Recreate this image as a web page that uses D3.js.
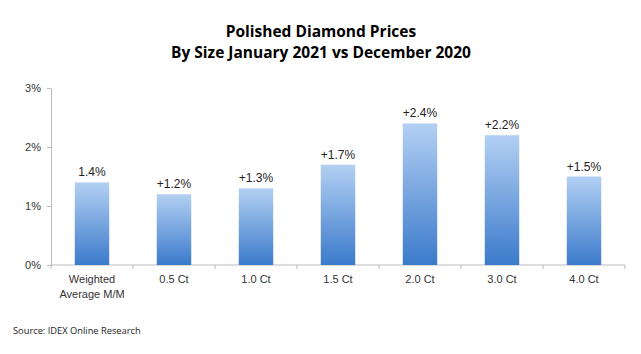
<!DOCTYPE html>
<html>
<head>
<meta charset="utf-8">
<script src="https://cdn.jsdelivr.net/npm/d3@7"></script>
<style>
  body { margin: 0; background: #fff; }
  text { font-family: "Liberation Sans", Arial, sans-serif; }
</style>
</head>
<body>
<div id="chart"></div>
<script>
// data
const categories = ["Weighted\nAverage M/M", "0.5 Ct", "1.0 Ct", "1.5 Ct", "2.0 Ct", "3.0 Ct", "4.0 Ct"];
const values = [1.4, 1.2, 1.3, 1.7, 2.4, 2.2, 1.5];
const valueLabels = ["1.4%", "+1.2%", "+1.3%", "+1.7%", "+2.4%", "+2.2%", "+1.5%"];
const yTicks = [0, 1, 2, 3];

const W = 641, H = 354;
const margin = {top: 88, right: 16, bottom: 89, left: 51};
const width = W - margin.left - margin.right,
      height = H - margin.top - margin.bottom;

const root = d3.select("#chart").append("svg")
    .attr("width", W)
    .attr("height", H);

// Gradient for bars
const grad = root.append("defs").append("linearGradient")
    .attr("id", "barGrad")
    .attr("x1", 0).attr("y1", 0).attr("x2", 0).attr("y2", 1);
grad.append("stop").attr("offset", "0%").attr("stop-color", "#b3d0f3");
grad.append("stop").attr("offset", "100%").attr("stop-color", "#3b7acb");

// Title
[["Polished Diamond Prices", 37], ["By Size January 2021 vs December 2020", 58]].forEach(([t, ty]) => {
    root.append("text")
        .attr("x", 321).attr("y", ty)
        .attr("text-anchor", "middle")
        .style("font-family", "'Open Sans', sans-serif")
        .style("font-weight", "700")
        .style("font-size", "15.5px")
        .attr("fill", "#000")
        .text(t);
});

const svg = root.append("g")
    .attr("transform", `translate(${margin.left},${margin.top})`);

const x = d3.scaleBand()
    .domain(categories)
    .range([0, width])
    .paddingInner(0.58)
    .paddingOuter(0.29);

const y = d3.scaleLinear()
    .domain([0, 3])
    .range([height, 0]);

// Y axis
const yAxis = svg.append("g")
    .call(d3.axisLeft(y).tickValues(yTicks).tickFormat(d => d + "%").tickSize(4).tickSizeOuter(0));
yAxis.select(".domain").attr("stroke", "#bbb");
yAxis.selectAll(".tick line").attr("stroke", "#bbb");
yAxis.selectAll(".tick text")
    .attr("x", -10)
    .style("font-size", "11px")
    .attr("fill", "#333");

// X axis (ticks between categories)
const xAxis = svg.append("g")
    .attr("transform", `translate(0,${height})`);
xAxis.append("line")
    .attr("x1", 0).attr("x2", width)
    .attr("stroke", "#bbb");
const step = x.step();
xAxis.selectAll(".sep")
    .data(d3.range(categories.length + 1))
    .enter()
    .append("line")
    .attr("x1", i => i * step).attr("x2", i => i * step)
    .attr("y1", 0).attr("y2", 4)
    .attr("stroke", "#bbb");

xAxis.selectAll(".cat")
    .data(categories)
    .enter()
    .append("text")
    .attr("text-anchor", "middle")
    .attr("transform", d => `translate(${x(d) + x.bandwidth() / 2},18)`)
    .style("font-size", "11px")
    .attr("fill", "#333")
    .each(function (d) {
        const t = d3.select(this);
        d.split("\n").forEach((line, i) => {
            t.append("tspan").attr("x", 0).attr("dy", i === 0 ? 0 : 15).text(line);
        });
    });

// Bars
svg.selectAll(".bar")
    .data(values)
    .enter()
    .append("rect")
    .attr("class", "bar")
    .attr("x", (d, i) => x(categories[i]))
    .attr("y", d => y(d))
    .attr("width", x.bandwidth())
    .attr("height", d => height - y(d))
    .attr("fill", "url(#barGrad)");

// Value labels
svg.selectAll(".val")
    .data(values)
    .enter()
    .append("text")
    .attr("text-anchor", "middle")
    .attr("x", (d, i) => x(categories[i]) + x.bandwidth() / 2)
    .attr("y", d => y(d) - 6)
    .style("font-size", "12px")
    .attr("fill", "#222")
    .text((d, i) => valueLabels[i]);

// Source
root.append("text")
    .attr("x", 13).attr("y", 334)
    .style("font-family", "'Open Sans', sans-serif")
    .style("font-size", "9.3px")
    .attr("fill", "#222")
    .text("Source:  IDEX Online Research");
</script>
</body>
</html>
